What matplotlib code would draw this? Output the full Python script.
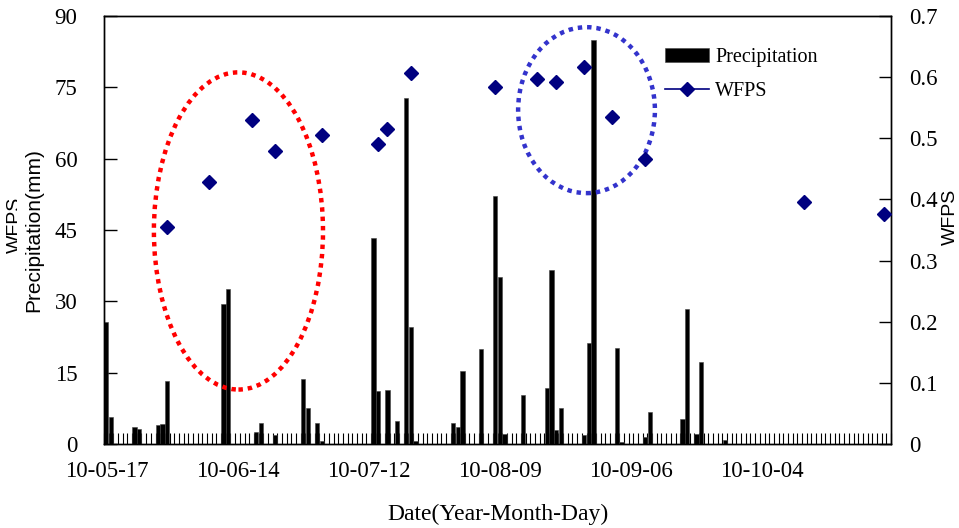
import numpy as np
import matplotlib
matplotlib.use("Agg")
from matplotlib import pyplot as plt
from matplotlib.patches import Ellipse
from matplotlib.transforms import Bbox, TransformedBbox

# daily precipitation, day index counted from 2010-05-17
rain_days = [0, 1, 6, 7, 11, 12, 13, 25, 26, 32, 33, 36, 42, 43, 45, 46,
             57, 58, 60, 62, 64, 65, 66, 74, 75, 76, 80, 83, 84, 85, 89,
             94, 95, 96, 97, 102, 103, 104, 109, 110, 115, 116, 123, 124,
             126, 127, 132]
rain_mm = [25.7, 5.7, 3.5, 3.2, 3.9, 4.2, 13.3, 29.4, 32.6, 2.5, 4.5, 1.9,
           13.7, 7.5, 4.5, 0.6, 43.3, 11.1, 11.4, 4.8, 72.8, 24.7, 0.6,
           4.5, 3.6, 15.3, 19.9, 52.1, 35.1, 2.2, 10.4, 11.7, 36.6, 2.9,
           7.5, 1.9, 21.2, 85.0, 20.2, 0.5, 1.4, 6.8, 5.3, 28.3, 2.2, 17.2,
           0.9]

wfps_days = [13, 22, 31, 36, 46, 58, 60, 65, 83, 92, 96, 102, 108, 115,
             149, 166]
wfps = [0.355, 0.429, 0.530, 0.479, 0.505, 0.491, 0.515, 0.607, 0.584,
        0.597, 0.592, 0.617, 0.535, 0.466, 0.396, 0.376]

n_days = 168
label_days = [0, 28, 56, 84, 112, 140]
date_labels = ["10-05-17", "10-06-14", "10-07-12", "10-08-09", "10-09-06", "10-10-04"]

serif = "Liberation Serif"
sans = "Liberation Sans"

fig = plt.figure(figsize=(9.59, 5.28), dpi=100)
ax = fig.add_axes([104/959, 84/528, 787/959, 428/528])
ax2 = ax.twinx()

bars = ax.bar(rain_days, rain_mm, width=0.92, color="black", edgecolor="#444444",
              linewidth=0.4, label="Precipitation", zorder=3)
ax.set_xlim(-0.5, n_days - 0.5)
ax.set_ylim(0, 90)
ax.set_yticks(np.arange(0, 91, 15))
ax.set_xticks(label_days)
ax.set_xticklabels(date_labels)
ax.set_xticks(np.arange(-0.5, n_days, 1), minor=True)
ax.tick_params(axis="x", which="major", length=0, pad=12)
ax.tick_params(axis="x", which="minor", direction="in", length=8, width=0.8)
ax.tick_params(axis="y", direction="in", length=9, width=1, pad=19)
for lab in ax.get_xticklabels() + ax.get_yticklabels():
    lab.set_fontfamily(serif)
    lab.set_fontsize(16.5)
ax.set_xlabel("Date(Year-Month-Day)", fontfamily=serif, fontsize=17, labelpad=16)
ax.set_ylabel("Precipitation(mm)", fontfamily=sans, fontsize=15, labelpad=8)

line, = ax2.plot(wfps_days, wfps, linestyle="none", marker="D", markersize=7.2,
                 color="#000080", label="WFPS", zorder=4)
ax2.set_ylim(0, 0.7)
ax2.set_yticks(np.arange(0, 0.71, 0.1))
ax2.set_yticklabels(["0"] + [f"{v:.1f}" for v in np.arange(0.1, 0.71, 0.1)])
ax2.tick_params(axis="y", direction="in", length=9, width=1, pad=13)
for lab in ax2.get_yticklabels():
    lab.set_fontfamily(serif)
    lab.set_fontsize(16.5)
ax2.set_ylabel("WFPS", fontfamily=sans, fontsize=14, ha="center", va="center")
ax2.yaxis.set_label_coords(1.076, 0.53)

for a in (ax, ax2):
    for s in a.spines.values():
        s.set_linewidth(1)

# highlight ellipses (drawn in precipitation axis units)
ax.add_patch(Ellipse((28.2, 44.8), 36.1, 66.7, fill=False, edgecolor="#ff0000",
                     linewidth=3.2, linestyle=(0, (1, 1.1)), zorder=5))
ax.add_patch(Ellipse((102.5, 70.2), 29.2, 34.9, fill=False, edgecolor="#3333cc",
                     linewidth=3.2, linestyle=(0, (1, 1.1)), zorder=5))

leg_line = plt.Line2D([], [], color="#000080", marker="D", markersize=7.2, linewidth=1.2)
fig.legend([bars, leg_line], ["Precipitation", "WFPS"], loc="upper left",
           bbox_to_anchor=(655/959, 1 - 38/528), frameon=False,
           prop={"family": serif, "size": 14.5}, handlelength=2.2,
           handletextpad=0.3, labelspacing=0.75, borderpad=0)

# stray hidden label at the far left, partly cut off
t = fig.text(15/959, 1 - 225/528, "WFPS", rotation=90, fontfamily=sans, fontsize=14,
             ha="center", va="center")
t.set_clip_box(TransformedBbox(Bbox([[0, 0], [17/959, 1]]), fig.transFigure))
t.set_clip_on(True)

fig.savefig("out.png", dpi=100)
